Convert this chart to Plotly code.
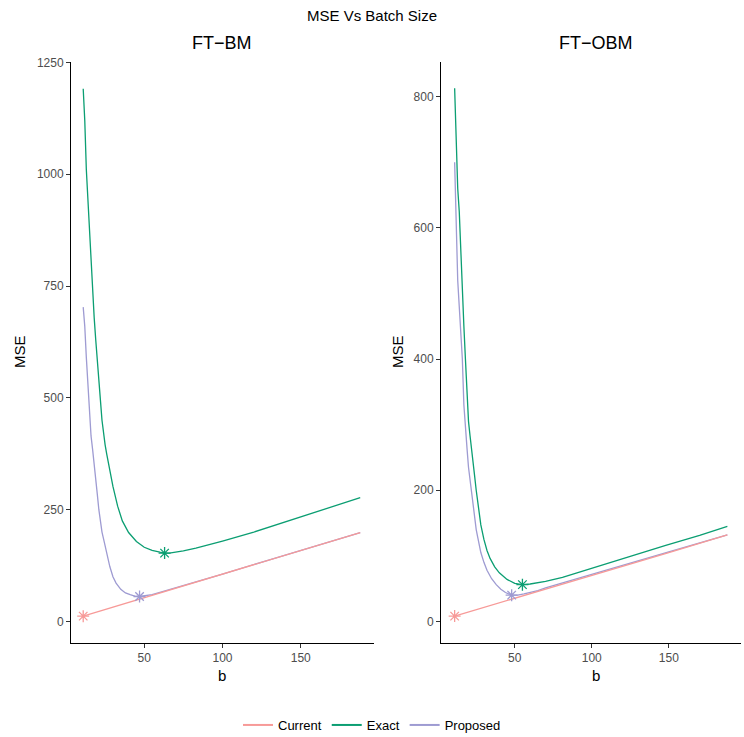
import plotly.graph_objects as go

# ---------------- data ----------------
# FT-BM panel
bm_current_b = [11, 50, 100, 150, 188]
bm_current_v = [12, 53, 106, 159, 199]

bm_exact_b = [11, 12, 13, 14, 15, 16, 17, 18, 19, 20, 21, 22, 23, 24, 25, 26, 28, 30, 33, 36,
              40, 45, 50, 55, 60, 63, 66, 70, 75, 83, 90, 100, 120, 145, 165, 188]
bm_exact_v = [1191, 1120, 1010, 940, 860, 800, 730, 680, 630, 590, 540, 495, 450, 420, 395, 375,
              337, 302, 258, 225, 199, 179, 166, 159, 155, 153, 153, 155, 158, 164, 170, 180,
              200, 228, 251, 277]

bm_prop_b = [11, 12, 13, 14, 15, 16, 17, 18, 19, 20, 21, 22, 23, 24, 25, 26, 28, 30, 32, 35,
             38, 41, 44, 47, 50, 55, 60, 65, 70, 80, 100, 130, 160, 188]
bm_prop_v = [703, 660, 590, 525, 450, 415, 385, 355, 325, 285, 250, 222, 200, 185, 168, 150,
             123, 100, 86, 72, 64, 60, 57, 56, 57, 60, 65, 70, 75, 85, 106, 138, 170, 199]

bm_star_b = [11, 63, 47]
bm_star_v = [12, 153, 56]

# FT-OBM panel
obm_current_b = [11, 50, 100, 150, 188]
obm_current_v = [8, 35, 70, 105, 132]

obm_exact_b = [11, 12, 13, 14, 15, 16, 17, 18, 19, 20, 21, 22, 23, 24, 25, 26, 28, 30, 32, 34,
               37, 40, 45, 50, 55, 60, 70, 81, 97, 120, 148, 170, 188]
obm_exact_v = [813, 720, 660, 625, 560, 500, 450, 400, 340, 305, 283, 265, 245, 221, 200, 181,
               147, 125, 108, 96, 83, 74, 64, 58, 56, 57, 61, 67, 79, 96, 116, 131, 145]

obm_prop_b = [11, 12, 13, 14, 15, 16, 17, 18, 19, 20, 21, 22, 23, 24, 25, 26, 28, 30, 32, 35,
              38, 41, 44, 48, 52, 56, 60, 65, 70, 100, 150, 188]
obm_prop_v = [700, 600, 520, 480, 440, 400, 330, 290, 265, 235, 215, 192, 172, 156, 140, 128,
              105, 90, 78, 65, 56, 49, 44, 40, 40, 42, 44, 47, 51, 72, 106, 132]

obm_star_b = [11, 55, 48]
obm_star_v = [8, 56, 40]

series_names = ["Current", "Exact", "Proposed"]
colors = {"Current": "#F79A98", "Exact": "#0B9E72", "Proposed": "#9E9BD2"}

bm_ticks_y = [0, 250, 500, 750, 1000, 1250]
obm_ticks_y = [0, 200, 400, 600, 800]
ticks_x = [50, 100, 150]

# ---------------- figure ----------------
W, H = 744, 737
MB = 45            # bottom margin (holds the legend)
PH = H - MB        # plot-area height in px


def py(px):
    """pixel row -> paper y"""
    return (PH - px) / PH


fig = go.Figure()

panels = [
    ("x", "y", bm_current_b, bm_current_v, bm_exact_b, bm_exact_v, bm_prop_b, bm_prop_v,
     bm_star_b, bm_star_v),
    ("x2", "y2", obm_current_b, obm_current_v, obm_exact_b, obm_exact_v, obm_prop_b, obm_prop_v,
     obm_star_b, obm_star_v),
]

for (xa, ya, cb, cv, eb, ev, pb, pv, sb, sv) in panels:
    # draw order: Proposed, Current, Exact
    fig.add_trace(go.Scatter(x=pb, y=pv, mode="lines", name="Proposed",
                             line=dict(color=colors["Proposed"], width=1.3), showlegend=False,
                             xaxis=xa, yaxis=ya))
    fig.add_trace(go.Scatter(x=cb, y=cv, mode="lines", name="Current",
                             line=dict(color=colors["Current"], width=1.3), showlegend=False,
                             xaxis=xa, yaxis=ya))
    fig.add_trace(go.Scatter(x=eb, y=ev, mode="lines", name="Exact",
                             line=dict(color=colors["Exact"], width=1.3), showlegend=False,
                             xaxis=xa, yaxis=ya))
    for i, nm in enumerate(series_names):
        fig.add_trace(go.Scatter(x=[sb[i]], y=[sv[i]], mode="markers", showlegend=False,
                                 marker=dict(symbol="asterisk-open", size=10, color=colors[nm],
                                             line=dict(color=colors[nm], width=1.3)),
                                 xaxis=xa, yaxis=ya))

# legend entries
for nm in series_names:
    fig.add_trace(go.Scatter(x=[None], y=[None], mode="lines", name=nm,
                             line=dict(color=colors[nm], width=2), showlegend=True,
                             xaxis="x", yaxis="y"))

ydom = [py(643), py(62)]
axis_common = dict(showgrid=False, zeroline=False, showline=True, linecolor="black", linewidth=1,
                   ticks="outside", ticklen=4, tickwidth=1, tickcolor="#333333",
                   tickfont=dict(family="Liberation Sans", size=12, color="#4D4D4D"))

fig.update_layout(
    width=W, height=H,
    margin=dict(l=0, r=0, t=0, b=MB, pad=0, autoexpand=False),
    paper_bgcolor="white", plot_bgcolor="white",
    font=dict(family="Liberation Sans", color="black"),
    xaxis=dict(domain=[71 / W, 374 / W], range=[3.2, 196.8], tickvals=ticks_x, anchor="y",
               **axis_common),
    yaxis=dict(domain=ydom, range=[-48, 1251], tickvals=bm_ticks_y, anchor="x", **axis_common),
    xaxis2=dict(domain=[441 / W, 741 / W], range=[2.15, 196.85], tickvals=ticks_x, anchor="y2",
                **axis_common),
    yaxis2=dict(domain=ydom, range=[-33, 853], tickvals=obm_ticks_y, anchor="x2", **axis_common),
    legend=dict(orientation="h", x=0.5, xanchor="center", y=py(725), yanchor="middle",
                font=dict(family="Liberation Sans", size=13, color="black"),
                bgcolor="rgba(0,0,0,0)"),
    showlegend=True,
)


def ann(text, x, y, size, angle=0):
    fig.add_annotation(text=text, x=x / W, y=py(y), xref="paper", yref="paper",
                       showarrow=False, textangle=angle, xanchor="center", yanchor="middle",
                       font=dict(family="Liberation Sans", size=size, color="black"))


ann("MSE Vs Batch Size", 372, 15, 15)
ann("FT\u2212BM", 222, 43, 18)
ann("FT\u2212OBM", 596, 43, 18)
ann("b", 222, 675, 15)
ann("b", 596, 675, 15)
ann("MSE", 19, 352, 15, -90)
ann("MSE", 397, 352, 15, -90)

fig.write_html("out.html")
